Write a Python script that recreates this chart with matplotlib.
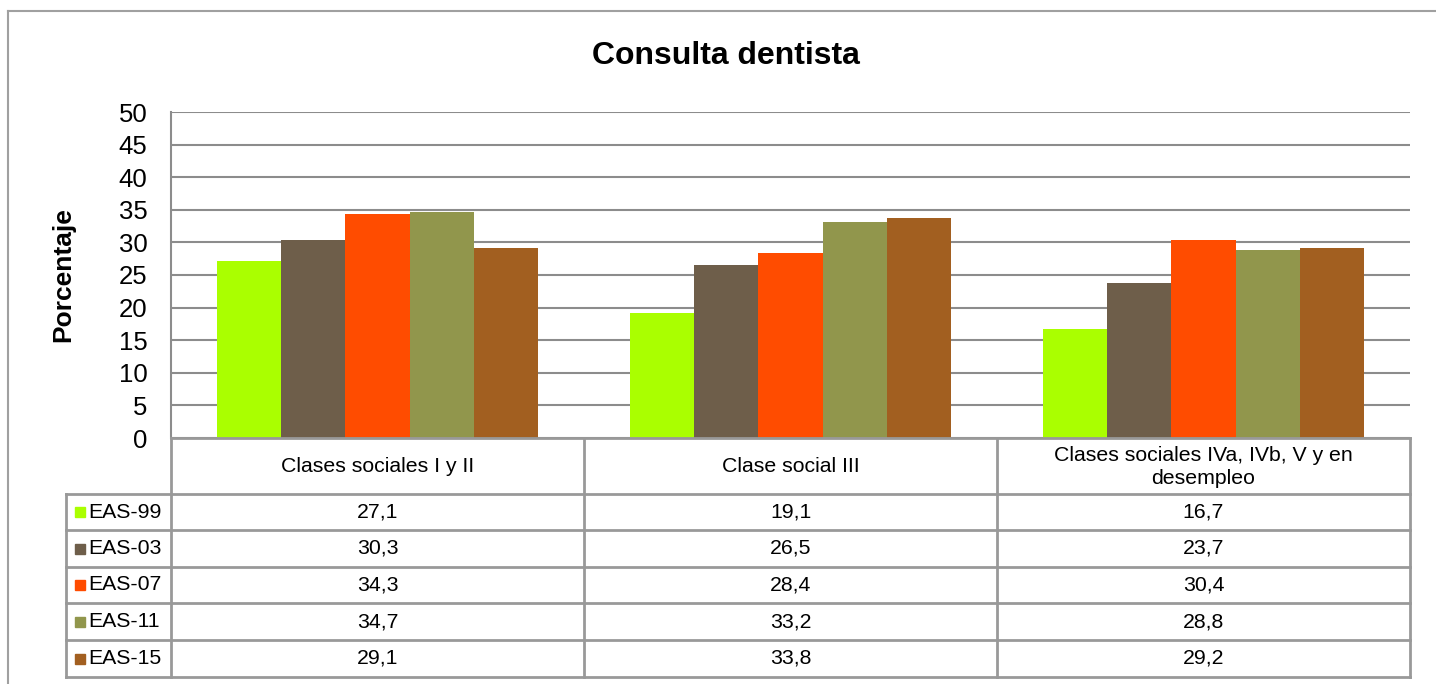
import matplotlib.pyplot as plt
import numpy as np
from matplotlib.lines import Line2D
from matplotlib.patches import Rectangle
from matplotlib.transforms import blended_transform_factory

plt.rcParams['font.family'] = ['Liberation Sans', 'DejaVu Sans']

categorias = ["Clases sociales I y II", "Clase social III",
              "Clases sociales IVa, IVb, V y en\ndesempleo"]
series = ["EAS-99", "EAS-03", "EAS-07", "EAS-11", "EAS-15"]
eas_99 = [27.1, 19.1, 16.7]
eas_03 = [30.3, 26.5, 23.7]
eas_07 = [34.3, 28.4, 30.4]
eas_11 = [34.7, 33.2, 28.8]
eas_15 = [29.1, 33.8, 29.2]
valores = [eas_99, eas_03, eas_07, eas_11, eas_15]
colores = ["#AAFF00", "#6E5E4A", "#FF4C00", "#91964C", "#A25F20"]

W, H = 1436, 684
gris = "#999999"

fig = plt.figure(figsize=(W / 100, H / 100), dpi=100)
ax = fig.add_axes([171 / W, 1 - 438 / H, (1410 - 171) / W, (438 - 112) / H])

x = np.arange(len(categorias))
ancho = 0.155
for i, (nombre, vals) in enumerate(zip(series, valores)):
    ax.bar(x + (i - 2) * ancho, vals, ancho, color=colores[i], zorder=3,
           linewidth=0)

ax.set_xlim(-0.5, 2.5)
ax.set_ylim(0, 50)
ax.set_yticks(np.arange(0, 51, 5))
ax.tick_params(axis="y", length=0, pad=17, labelsize=18.5)
ax.set_xticks([])
ax.yaxis.grid(True, color="#8c8c8c", linewidth=1.5, zorder=0)
for s in ["top", "right", "bottom"]:
    ax.spines[s].set_visible(False)
ax.spines["left"].set_color("#8c8c8c")
ax.spines["left"].set_linewidth(1.5)

fig.text(726 / W, 1 - 56 / H, "Consulta dentista", fontsize=23, fontweight="bold",
         ha="center", va="center")
fig.text(63 / W, 1 - 275 / H, "Porcentaje", fontsize=19, fontweight="bold",
         rotation=90, ha="center", va="center")

# marco exterior
fig.add_artist(Line2D([8 / W, 8 / W], [0, 1 - 11 / H], color="#a0a0a0", lw=1.5,
                      transform=fig.transFigure))
fig.add_artist(Line2D([8 / W, 1], [1 - 11 / H, 1 - 11 / H], color="#a0a0a0", lw=1.5,
                      transform=fig.transFigure))

# tabla de datos
tr = blended_transform_factory(ax.transData, fig.transFigure)
def fy(py):
    return 1 - py / H

x_izq = -0.5 - 105 / 413
filas = [494, 530, 567, 603, 640, 677]
bordes = [-0.5, 0.5, 1.5, 2.5]

fig.add_artist(Line2D([-0.5, 2.5], [fy(438), fy(438)], color=gris, lw=2, transform=tr))
for py in filas:
    fig.add_artist(Line2D([x_izq, 2.5], [fy(py), fy(py)], color=gris, lw=2, transform=tr))
for bx in bordes:
    fig.add_artist(Line2D([bx, bx], [fy(438), fy(677)], color=gris, lw=2, transform=tr))
fig.add_artist(Line2D([x_izq, x_izq], [fy(494), fy(677)], color=gris, lw=2, transform=tr))

for j, cat in enumerate(categorias):
    fig.text(j, fy(467), cat, fontsize=15.3, ha="center", va="center",
             linespacing=1.3, transform=tr)

for i, (nombre, vals) in enumerate(zip(series, valores)):
    yc = (filas[i] + filas[i + 1]) / 2
    fig.add_artist(Rectangle((x_izq + 9 / 413, fy(yc + 5)), 10 / 413, 10 / H,
                             color=colores[i], transform=tr))
    fig.text(x_izq + 22 / 413, fy(yc), nombre, fontsize=15.3, ha="left", va="center",
             transform=tr)
    for j, v in enumerate(vals):
        fig.text(j, fy(yc), f"{v:.1f}".replace(".", ","), fontsize=15.3,
                 ha="center", va="center", transform=tr)

fig.savefig("out.png", dpi=100, facecolor="white")
